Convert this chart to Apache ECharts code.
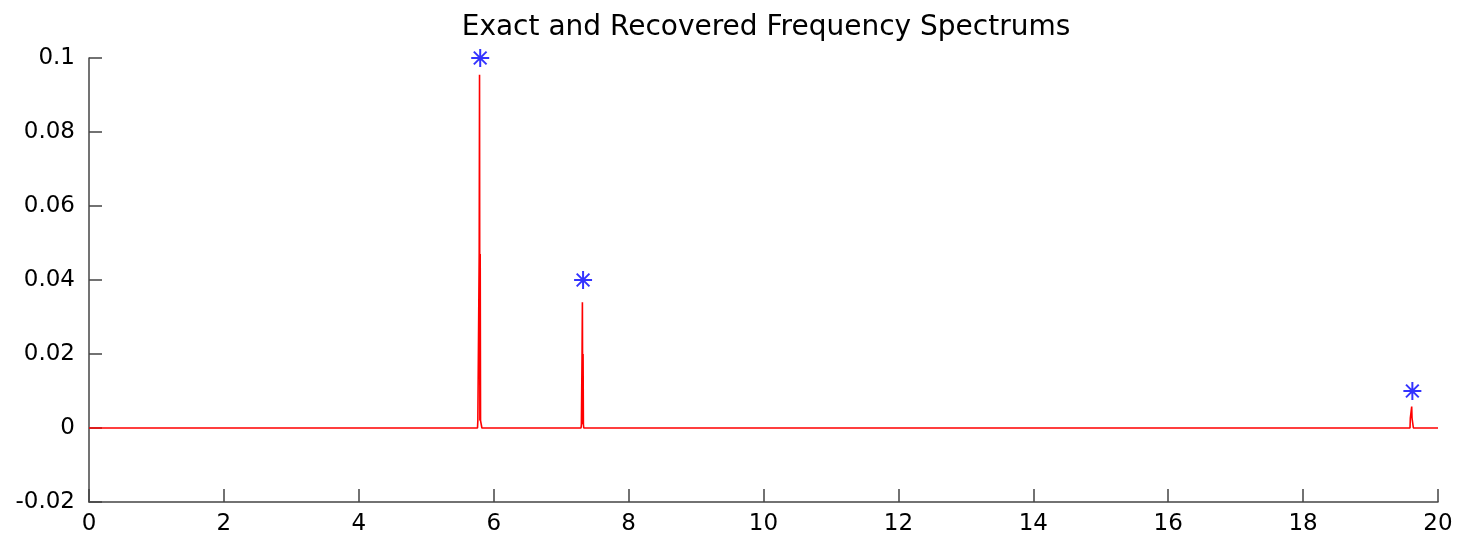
<!DOCTYPE html>
<html>
<head>
<meta charset="utf-8">
<script src="https://cdn.jsdelivr.net/npm/echarts@6/dist/echarts.min.js"></script>
<style>
html,body{margin:0;padding:0;background:#fff;}
#chart{width:1459px;height:544px;}
</style>
</head>
<body>
<div id="chart"></div>
<script>
// Recovered spectrum (red line): frequency and amplitude
const spectrumFreq = [0, 5.76, 5.765, 5.78, 5.785, 5.79, 5.795, 5.80, 5.805, 5.82, 5.825,
  7.295, 7.30, 7.31, 7.315, 7.32, 7.325, 7.33, 7.335,
  19.585, 19.59, 19.605, 19.61, 19.615, 19.63, 19.635, 20];
const spectrumAmp = [0, 0, 0.002, 0.002, 0.047, 0.0955, 0.002, 0.047, 0.002, 0.002, 0,
  0, 0.001, 0.02, 0.034, 0.001, 0.02, 0.001, 0,
  0, 0.0027, 0.0027, 0.0058, 0.0027, 0.0027, 0, 0];
// Exact spectrum (blue asterisks)
const exactFreq = [5.8, 7.325, 19.62];
const exactAmp = [0.1, 0.04, 0.01];

const xTicks = {min: 0, max: 20, interval: 2};
const yTicks = {min: -0.02, max: 0.1, interval: 0.02};

const chart = echarts.init(document.getElementById('chart'), null, {renderer: 'canvas'});
const font = '"DejaVu Sans", sans-serif';
const axisColor = '#444';
chart.setOption({
  animation: false,
  backgroundColor: '#fff',
  title: {
    text: 'Exact and Recovered Frequency Spectrums',
    left: 761, top: 9, textAlign: 'center',
    textStyle: {fontFamily: font, fontSize: 28, fontWeight: 'normal', color: '#000'}
  },
  grid: {left: 89, right: 21, top: 58, bottom: 42, containLabel: false},
  xAxis: {
    type: 'value', min: xTicks.min, max: xTicks.max, interval: xTicks.interval,
    axisLine: {show: true, onZero: false, lineStyle: {color: axisColor, width: 1.5}},
    axisTick: {show: true, inside: true, length: 13, lineStyle: {color: axisColor, width: 1.5}},
    axisLabel: {fontFamily: font, fontSize: 23, color: '#000', margin: 11},
    splitLine: {show: false}
  },
  yAxis: {
    type: 'value', min: yTicks.min, max: yTicks.max, interval: yTicks.interval,
    axisLine: {show: true, onZero: false, lineStyle: {color: axisColor, width: 1.5}},
    axisTick: {show: true, inside: true, length: 13, lineStyle: {color: axisColor, width: 1.5}},
    axisLabel: {fontFamily: font, fontSize: 23, color: '#000', margin: 14},
    splitLine: {show: false}
  },
  series: [
    {
      type: 'line', symbol: 'none',
      data: spectrumFreq.map((f, i) => [f, spectrumAmp[i]]),
      lineStyle: {color: '#ff0000', width: 1.6}
    },
    {
      type: 'scatter',
      symbol: 'path://M0,-10L0,10M-10,0L10,0M-7.07,-7.07L7.07,7.07M-7.07,7.07L7.07,-7.07',
      symbolSize: 18,
      data: exactFreq.map((f, i) => [f, exactAmp[i]]),
      itemStyle: {color: 'rgba(0,0,0,0)', borderColor: '#0000ff', borderWidth: 2}
    }
  ]
});
</script>
</body>
</html>
